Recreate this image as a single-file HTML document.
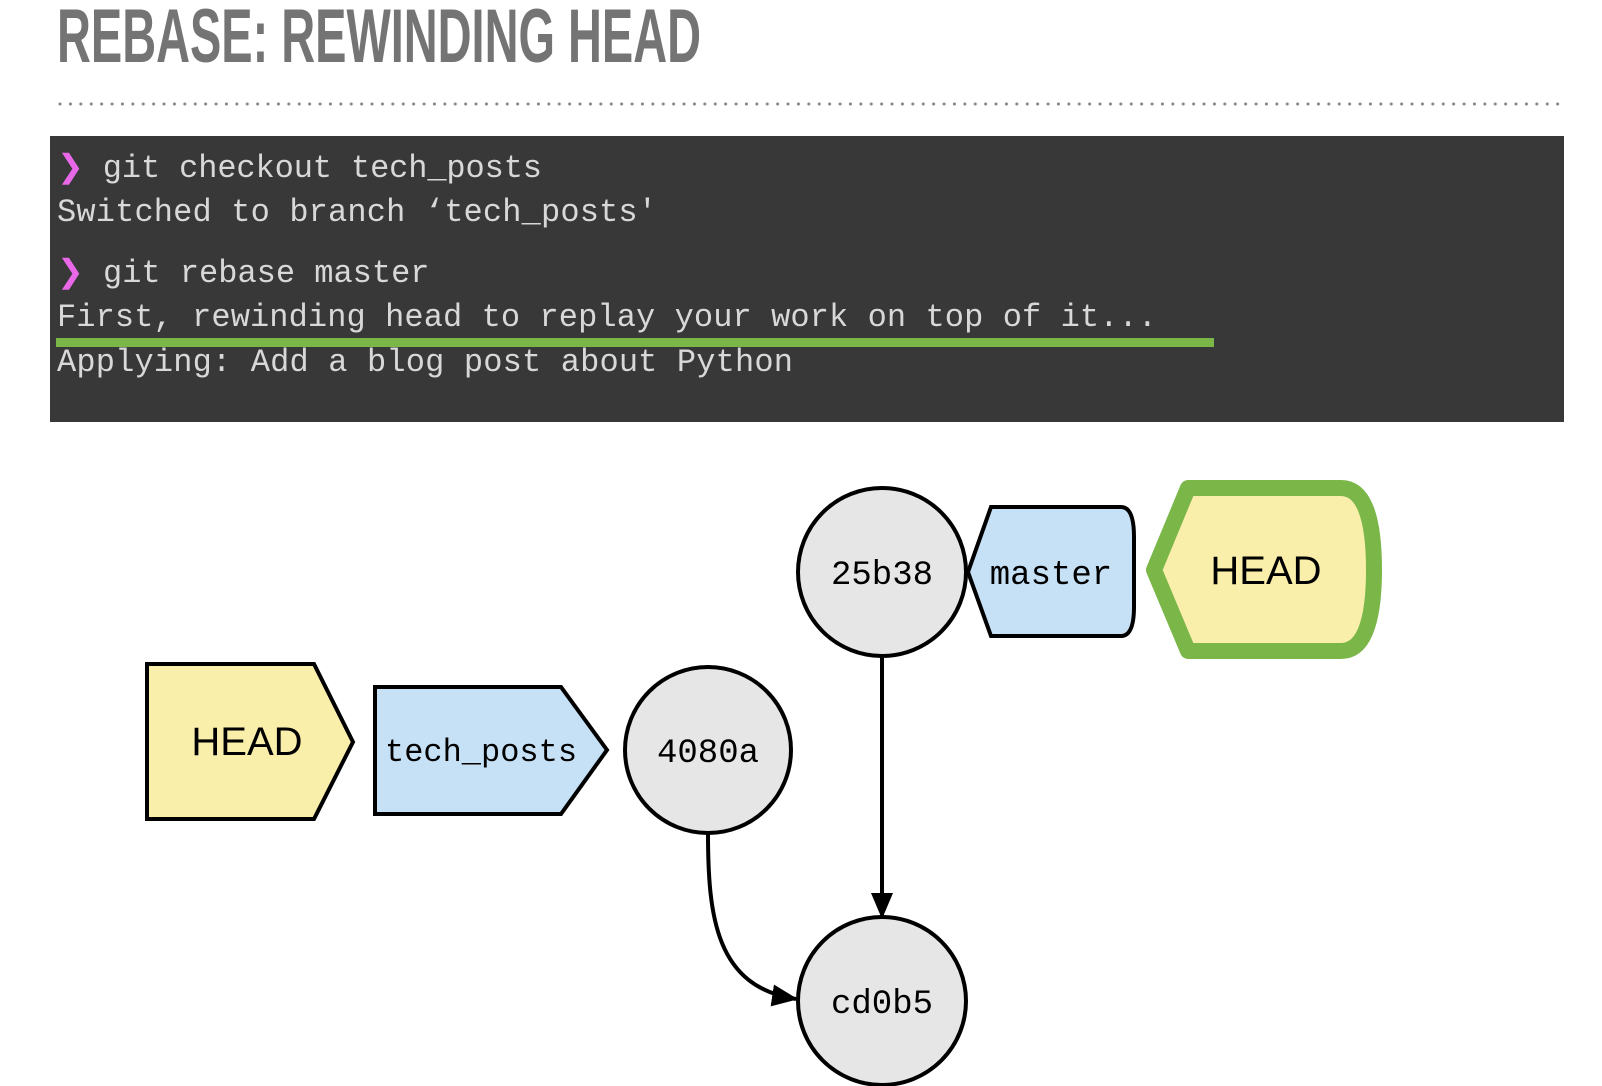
<!DOCTYPE html>
<html><head><meta charset="utf-8"><style>
html,body{margin:0;padding:0;background:#fff;width:1602px;height:1086px;overflow:hidden}
</style></head><body>
<svg width="1602" height="1086" viewBox="0 0 1602 1086" xmlns="http://www.w3.org/2000/svg">
<defs><marker id="ah" markerWidth="26" markerHeight="22" refX="24" refY="11" orient="auto" markerUnits="userSpaceOnUse" viewBox="0 0 26 22"><path d="M0,0 L26,11 L0,22 z" fill="#000"/></marker></defs>
<text x="57" y="62" font-family="Liberation Sans Narrow, Liberation Sans, sans-serif" font-weight="bold" font-size="76" fill="#737473" textLength="644" lengthAdjust="spacingAndGlyphs">REBASE: REWINDING HEAD</text>
<line x1="60" y1="104" x2="1566" y2="104" stroke="#888" stroke-width="3" stroke-dasharray="0.1 10.3" stroke-linecap="round"/>
<rect x="50" y="136" width="1521" height="286" fill="#383838" transform="translate(50,0) scale(0.9954,1) translate(-50,0)"/>
<g font-family="Liberation Mono, monospace" font-size="32" fill="#d8d8d8">
<text x="57" y="177" textLength="485" lengthAdjust="spacing"><tspan fill="#e868e8">❯</tspan> git checkout tech_posts</text>
<text x="57" y="221" textLength="600" lengthAdjust="spacing">Switched to branch ‘tech_posts'</text>
<text x="57" y="282"><tspan fill="#e868e8">❯</tspan> git rebase master</text>
<text x="57" y="326" textLength="1100" lengthAdjust="spacing">First, rewinding head to replay your work on top of it...</text>
<text x="57" y="371" textLength="736" lengthAdjust="spacing">Applying: Add a blog post about Python</text>
</g>
<rect x="56" y="338" width="1158" height="9" fill="#7ab648"/>
<g transform="translate(-4,-3)">
<g stroke="#000" stroke-width="4">
<line x1="886" y1="659" x2="886" y2="920" marker-end="url(#ah)"/>
<path d="M712,836 C712,920 720,990 800,1002" fill="none" marker-end="url(#ah)"/>
<circle cx="886" cy="575" r="84" fill="#e6e6e6"/>
<circle cx="712" cy="753" r="83" fill="#e6e6e6"/>
<circle cx="886" cy="1004" r="84" fill="#e6e6e6"/>
<path d="M151,667 L318,667 L357,745 L318,822 L151,822 Z" fill="#f9eeaa"/>
<path d="M379,690 L565,690 L611,753 L565,817 L379,817 Z" fill="#c6e0f5"/>
<path d="M995,510 L1125,510 Q1138,510 1138,540 L1138,610 Q1138,639 1125,639 L995,639 L972,575 Z" fill="#c6e0f5"/>
</g>
<path d="M1192,491 L1345,491 Q1378,491 1378,573 Q1378,654 1345,654 L1192,654 L1158,573 Z" fill="#f9eeaa" stroke="#7ab648" stroke-width="16" stroke-linejoin="round"/>
<g font-family="Liberation Mono, monospace" font-size="34" text-anchor="middle" fill="#000">
<text x="886" y="587">25b38</text>
<text x="712" y="765">4080a</text>
<text x="886" y="1016">cd0b5</text>
<text x="1055" y="587">master</text>
<text x="485" y="764" font-size="32">tech_posts</text>
</g>
<g font-family="Liberation Sans, sans-serif" font-size="40" text-anchor="middle" fill="#000">
<text x="251" y="758">HEAD</text>
<text x="1270" y="587">HEAD</text>
</g>
</g>
</svg>
</body></html>
